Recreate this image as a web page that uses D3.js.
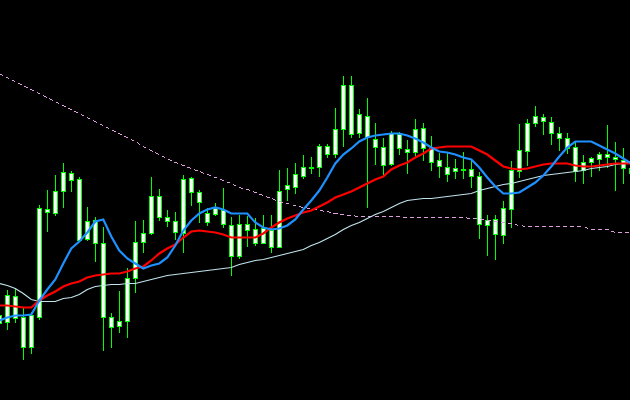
<!DOCTYPE html>
<html><head><meta charset="utf-8">
<script src="https://cdn.jsdelivr.net/npm/d3@7/dist/d3.min.js"></script>
<style>html,body{margin:0;padding:0;background:#000;overflow:hidden}</style>
</head><body>
<svg id="chart" width="630" height="400"></svg>
<script>
// OHLC prices, one per bar (bar index 0..79)
const opens  = [1.1085,1.1078,1.1104,1.1083,1.1053,1.1083,1.1191,1.1187,1.1209,1.1227,
                1.1221,1.1161,1.1180,1.1157,1.1083,1.1074,1.1079,1.1122,1.1158,1.1167,
                1.1204,1.1183,1.1179,1.1167,1.1222,1.1208,1.1178,1.1186,1.1190,1.1175,
                1.1144,1.1176,1.1171,1.1157,1.1170,1.1153,1.1211,1.1213,1.1224,1.1232,
                1.1233,1.1254,1.1246,1.1271,1.1315,1.1267,1.1284,1.1261,1.1253,1.1236,
                1.1266,1.1251,1.1248,1.1272,1.1252,1.1240,1.1233,1.1229,1.1231,1.1231,
                1.1224,1.1175,1.1181,1.1165,1.1191,1.1229,1.1249,1.1277,1.1283,1.1278,
                1.1267,1.1262,1.1253,1.1230,1.1238,1.1241,1.1246,1.1243,1.1240,1.1232];
const highs  = [1.1088,1.1110,1.1111,1.1092,1.1088,1.1195,1.1210,1.1225,1.1237,1.1229,
                1.1223,1.1193,1.1183,1.1173,1.1087,1.1109,1.1132,1.1179,1.1180,1.1223,
                1.1211,1.1190,1.1188,1.1225,1.1223,1.1210,1.1192,1.1197,1.1212,1.1183,
                1.1185,1.1184,1.1182,1.1185,1.1185,1.1230,1.1232,1.1237,1.1245,1.1243,
                1.1256,1.1256,1.1292,1.1324,1.1324,1.1291,1.1302,1.1277,1.1262,1.1269,
                1.1268,1.1260,1.1281,1.1277,1.1264,1.1247,1.1247,1.1241,1.1248,1.1240,
                1.1228,1.1185,1.1185,1.1199,1.1239,1.1276,1.1281,1.1294,1.1286,1.1283,
                1.1273,1.1267,1.1259,1.1245,1.1243,1.1248,1.1275,1.1258,1.1252,1.1235];
const lows   = [1.1073,1.1071,1.1078,1.1041,1.1047,1.1081,1.1169,1.1185,1.1193,1.1209,
                1.1160,1.1160,1.1139,1.1050,1.1053,1.1068,1.1063,1.1108,1.1148,1.1166,
                1.1180,1.1174,1.1161,1.1148,1.1195,1.1178,1.1175,1.1185,1.1173,1.1125,
                1.1142,1.1154,1.1155,1.1157,1.1148,1.1153,1.1200,1.1207,1.1222,1.1227,
                1.1224,1.1243,1.1243,1.1254,1.1263,1.1263,1.1193,1.1236,1.1226,1.1235,
                1.1246,1.1227,1.1243,1.1240,1.1230,1.1223,1.1219,1.1222,1.1222,1.1213,
                1.1162,1.1145,1.1141,1.1157,1.1173,1.1223,1.1235,1.1274,1.1266,1.1256,
                1.1250,1.1247,1.1219,1.1217,1.1224,1.1230,1.1233,1.1210,1.1217,1.1222];
const closes = [1.1077,1.1105,1.1082,1.1053,1.1085,1.1192,1.1188,1.1209,1.1228,1.1220,
                1.1160,1.1179,1.1157,1.1083,1.1073,1.1079,1.1122,1.1158,1.1167,1.1204,
                1.1183,1.1179,1.1168,1.1221,1.1208,1.1198,1.1187,1.1192,1.1176,1.1144,
                1.1176,1.1170,1.1157,1.1172,1.1153,1.1209,1.1215,1.1226,1.1233,1.1233,
                1.1254,1.1246,1.1271,1.1315,1.1266,1.1286,1.1263,1.1253,1.1235,1.1267,
                1.1252,1.1248,1.1271,1.1252,1.1238,1.1234,1.1226,1.1232,1.1230,1.1224,
                1.1176,1.1180,1.1166,1.1192,1.1230,1.1250,1.1277,1.1284,1.1279,1.1267,
                1.1262,1.1252,1.1229,1.1238,1.1242,1.1246,1.1243,1.1241,1.1232,1.1227];

// Moving averages
const maFast = [1.1080,1.1083,1.1085,1.1085,1.1086,1.1100,1.1111,1.1121,1.1137,1.1152,
                1.1159,1.1168,1.1179,1.1181,1.1164,1.1150,1.1142,1.1137,1.1132,1.1135,
                1.1137,1.1143,1.1155,1.1170,1.1180,1.1187,1.1191,1.1193,1.1191,1.1187,
                1.1187,1.1187,1.1178,1.1173,1.1171,1.1172,1.1175,1.1181,1.1191,1.1200,
                1.1210,1.1223,1.1237,1.1246,1.1252,1.1259,1.1263,1.1265,1.1266,1.1267,
                1.1267,1.1265,1.1262,1.1258,1.1253,1.1249,1.1248,1.1246,1.1243,1.1241,
                1.1233,1.1223,1.1214,1.1207,1.1207,1.1208,1.1213,1.1218,1.1225,1.1234,
                1.1244,1.1253,1.1259,1.1259,1.1259,1.1255,1.1251,1.1247,1.1242,1.1237];
const maMid  = [1.1095,1.1095,1.1094,1.1093,1.1093,1.1100,1.1105,1.1109,1.1114,1.1117,
                1.1119,1.1123,1.1125,1.1126,1.1127,1.1127,1.1129,1.1132,1.1134,1.1140,
                1.1147,1.1152,1.1156,1.1163,1.1169,1.1170,1.1169,1.1168,1.1166,1.1163,
                1.1163,1.1163,1.1163,1.1167,1.1173,1.1178,1.1182,1.1185,1.1188,1.1190,
                1.1194,1.1198,1.1203,1.1206,1.1209,1.1213,1.1217,1.1221,1.1224,1.1231,
                1.1235,1.1238,1.1243,1.1247,1.1252,1.1253,1.1254,1.1254,1.1254,1.1254,
                1.1250,1.1246,1.1240,1.1234,1.1232,1.1231,1.1232,1.1234,1.1236,1.1237,
                1.1237,1.1237,1.1235,1.1234,1.1234,1.1235,1.1236,1.1237,1.1237,1.1237];
const maSlow = [1.1117,1.1115,1.1112,1.1107,1.1101,1.1099,1.1099,1.1099,1.1102,1.1103,
                1.1106,1.1111,1.1114,1.1115,1.1116,1.1116,1.1117,1.1117,1.1119,1.1121,
                1.1123,1.1125,1.1126,1.1127,1.1128,1.1129,1.1130,1.1131,1.1132,1.1133,
                1.1136,1.1138,1.1140,1.1141,1.1143,1.1145,1.1147,1.1149,1.1151,1.1155,
                1.1158,1.1162,1.1166,1.1171,1.1175,1.1178,1.1182,1.1186,1.1189,1.1193,
                1.1197,1.1200,1.1201,1.1202,1.1202,1.1203,1.1204,1.1205,1.1206,1.1207,
                1.1210,1.1212,1.1214,1.1216,1.1217,1.1219,1.1221,1.1223,1.1225,1.1226,
                1.1227,1.1228,1.1229,1.1230,1.1232,1.1233,1.1234,1.1236,1.1237,1.1239];
const maLong = [1.1327,1.1323,1.1319,1.1315,1.1311,1.1307,1.1303,1.1299,1.1295,1.1291,
                1.1287,1.1283,1.1279,1.1275,1.1271,1.1267,1.1263,1.1259,1.1254,1.1250,
                1.1246,1.1242,1.1238,1.1235,1.1232,1.1229,1.1226,1.1223,1.1220,1.1217,
                1.1213,1.1211,1.1208,1.1205,1.1202,1.1199,1.1197,1.1195,1.1193,1.1192,
                1.1190,1.1189,1.1187,1.1186,1.1185,1.1184,1.1184,1.1184,1.1184,1.1184,
                1.1184,1.1183,1.1183,1.1183,1.1183,1.1183,1.1183,1.1183,1.1183,1.1182,
                1.1182,1.1180,1.1179,1.1178,1.1177,1.1175,1.1174,1.1174,1.1174,1.1174,
                1.1174,1.1174,1.1174,1.1174,1.1171,1.1171,1.1171,1.1168,1.1168,1.1168];

const W = 630, H = 400;
const svg = d3.select("#chart");
svg.append("rect").attr("width", W).attr("height", H).attr("fill", "#000");

const bars = d3.range(opens.length);
const x = d3.scaleLinear().domain([0, bars.length - 1]).range([-0.7, -0.7 + 8 * (bars.length - 1)]);
const y = d3.scaleLinear().domain([1.1000, 1.1400]).range([H, 0]);

const px = i => Math.round(x(i));
const py = v => Math.round(y(v));

// Candles
const g = svg.append("g").attr("shape-rendering", "crispEdges");
g.selectAll("line.wick").data(bars).join("line")
  .attr("class", "wick")
  .attr("x1", i => px(i) + 0.5).attr("x2", i => px(i) + 0.5)
  .attr("y1", i => py(highs[i])).attr("y2", i => py(lows[i]) + 1)
  .attr("stroke", "#00ff00").attr("stroke-width", 1);
g.selectAll("rect.body").data(bars).join("rect")
  .attr("class", "body")
  .attr("x", i => px(i) - 2 + 0.5)
  .attr("y", i => py(Math.max(opens[i], closes[i])) + 0.5)
  .attr("width", 4)
  .attr("height", i => Math.max(1, py(Math.min(opens[i], closes[i])) - py(Math.max(opens[i], closes[i]))))
  .attr("fill", "#ffffff").attr("stroke", "#00ff00").attr("stroke-width", 1);

// Lines
const line = arr => d3.line().x(i => x(i)).y(i => y(arr[i]) + 0.5)(bars);
svg.append("path").attr("d", line(maLong)).attr("fill", "none")
  .attr("shape-rendering", "crispEdges")
  .attr("stroke", "#e0a0e0").attr("stroke-width", 1).attr("stroke-dasharray", "4,3");
svg.append("path").attr("d", line(maSlow)).attr("fill", "none")
  .attr("stroke", "#c0e4ec").attr("stroke-width", 1.2);
svg.append("path").attr("d", line(maMid)).attr("fill", "none")
  .attr("stroke", "#ff0000").attr("stroke-width", 2.2);
svg.append("path").attr("d", line(maFast)).attr("fill", "none")
  .attr("stroke", "#1e90ff").attr("stroke-width", 2.2);
</script>
</body></html>
